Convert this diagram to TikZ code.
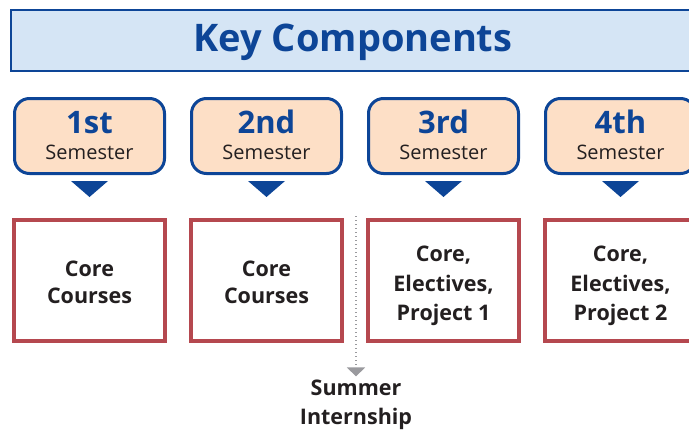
\documentclass[tikz,border=0pt]{standalone}
\usepackage{fontspec}
\setmainfont{Open Sans}
\usetikzlibrary{arrows.meta}
\definecolor{hdrfill}{HTML}{D5E5F5}
\definecolor{kblue}{HTML}{0D4597}
\definecolor{semfill}{HTML}{FDDFC6}
\definecolor{kred}{HTML}{B5484F}
\definecolor{ktext}{HTML}{231F20}
\definecolor{kgray}{HTML}{9A9A9E}
\tikzset{
  hdrbox/.style={draw=kblue, line width=2pt, fill=hdrfill, outer sep=0pt,
    minimum width=686pt, minimum height=61pt, inner sep=0pt},
  hdrtext/.style={anchor=base, inner sep=0pt, text=kblue,
    font=\fontsize{38}{40}\selectfont\bfseries},
  sembox/.style={draw=kblue, line width=3pt, fill=semfill, rounded corners=15pt,
    outer sep=0pt, minimum width=150pt, minimum height=75pt, inner sep=0pt},
  semnum/.style={anchor=base, inner sep=0pt, text=kblue,
    font=\fontsize{31}{33}\selectfont\bfseries},
  semword/.style={anchor=base, inner sep=0pt, text=ktext,
    font=\fontsize{20}{22}\selectfont},
  semtri/.style={fill=kblue},
  coursebox/.style={draw=kred, line width=4pt, fill=white, outer sep=0pt,
    minimum width=151pt, minimum height=121pt, inner sep=0pt},
  coursetext/.style={align=center, inner sep=0pt, text=ktext,
    font=\fontsize{21.5}{#1}\selectfont\bfseries},
  internlbl/.style={align=center, text=ktext, inner sep=0pt,
    font=\fontsize{21.5}{29}\selectfont\bfseries},
  dotline/.style={draw=kgray, line width=1.3pt, dash pattern=on 1.3pt off 2.7pt,
    -{Triangle[width=18pt,length=9pt,fill=kgray]}}
}
\begin{document}
\begin{tikzpicture}[x=1pt,y=-1pt]
\useasboundingbox (0,0) rectangle (689,431);
\clip (0,0) rectangle (689,431);
\node[hdrbox] (hdr) at (354,40.5) {};
\node[hdrtext] (title) at (353,52) {Key Components};
\foreach \i/\x/\t/\c/\ty/\ls in {1/89.5/1st/{Core\\Courses}/282.5/27,2/266.5/2nd/{Core\\Courses}/282.5/27,3/443.5/3rd/{Core,\\Electives,\\Project 1}/286/29.5,4/620.5/4th/{Core,\\Electives,\\Project 2}/286/29.5}{
  \node[sembox] (s\i) at (\x,136) {};
  \node[semnum] (n\i) at (\x,133) {\t};
  \node[semword] (w\i) at (\x,159) {Semester};
  \fill[semtri] ([xshift=-18.5pt,yshift=-7.5pt]s\i.south) -- ++(37,0) -- ++(-18.5,16) -- cycle;
  \node[coursebox] (c\i) at (\x,280.5) {};
  \node[coursetext=\ls] (t\i) at (\x,\ty) {\c};
}
\coordinate (dtop) at (356,216);
\node[internlbl] (summer) at (356,404.5) {Summer\\Internship};
\draw[dotline, shorten >=3pt] (dtop) -- (summer.north);
\end{tikzpicture}
\end{document}
